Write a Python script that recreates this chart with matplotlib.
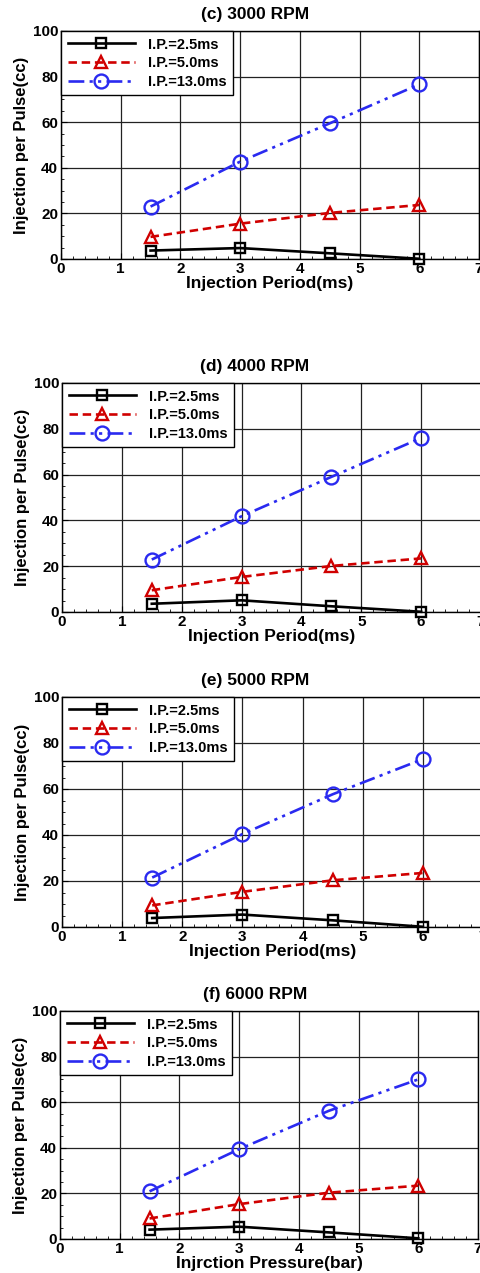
import matplotlib
matplotlib.use('Agg')
import matplotlib.pyplot as plt
from matplotlib.ticker import MultipleLocator
import numpy as np

plt.rcParams['font.family'] = ['Liberation Sans', 'DejaVu Sans']
plt.rcParams['font.weight'] = 'bold'

x_pts = [1.5, 3.0, 4.5, 6.0]
titles = ['(c) 3000 RPM', '(d) 4000 RPM', '(e) 5000 RPM', '(f) 6000 RPM']
xlabels = ['Injection Period(ms)', 'Injection Period(ms)',
           'Injection Period(ms)', 'Injrction Pressure(bar)']
series_names = ['I.P.=2.5ms', 'I.P.=5.0ms', 'I.P.=13.0ms']

ip25 = [[3.7, 4.8, 2.5, 0.1],
        [3.6, 5.1, 2.5, 0.1],
        [3.9, 5.4, 2.9, 0.1],
        [4.1, 5.4, 2.9, 0.3]]
ip50 = [[9.7, 15.5, 20.2, 23.7],
        [9.5, 15.3, 20.1, 23.4],
        [9.4, 15.3, 20.3, 23.5],
        [9.0, 15.3, 20.3, 23.4]]
ip130 = [[23.0, 42.7, 59.5, 76.6],
         [22.9, 41.8, 59.0, 76.0],
         [21.5, 40.4, 57.7, 73.0],
         [20.9, 39.4, 56.2, 70.0]]

# axes boxes in pixels (left, top, right, bottom) for a 480x1273 canvas
W, H = 480, 1273
boxes = [(61, 31, 479, 259),
         (62, 383, 481, 612),
         (62, 697, 483, 927),
         (60, 1011, 478, 1239)]

fig = plt.figure(figsize=(W / 100, H / 100), dpi=100)

styles = [dict(color='black', ls='-', marker='s', ms=7),
          dict(color='#d00000', ls=(0, (3.2, 1.8)), marker='^', ms=8.5),
          dict(color='#2a2af0', ls=(0, (6, 2, 1.2, 2, 1.2, 2)), marker='o', ms=10)]

for i in range(4):
    l, t, r, b = boxes[i]
    ax = fig.add_axes([l / W, 1 - b / H, (r - l) / W, (b - t) / H])
    for vals, name, st in zip([ip25[i], ip50[i], ip130[i]], series_names, styles):
        ax.plot(x_pts, vals, color=st['color'], ls=st['ls'], lw=1.9,
                marker=st['marker'], ms=st['ms'], mfc='none', mec=st['color'],
                mew=1.7, label=name, clip_on=False, zorder=3)
    ax.set_xlim(0, 7)
    ax.set_ylim(0, 100)
    ax.xaxis.set_major_locator(MultipleLocator(1))
    ax.xaxis.set_minor_locator(MultipleLocator(0.2))
    ax.yaxis.set_major_locator(MultipleLocator(20))
    ax.yaxis.set_minor_locator(MultipleLocator(5))
    ax.tick_params(which='both', direction='in', labelsize=11, pad=2)
    ax.tick_params(which='major', length=4)
    ax.tick_params(which='minor', length=2.5)
    ax.grid(True, which='major', color='#222222', lw=0.9)
    for s in ax.spines.values():
        s.set_linewidth(1.0)
    ax.set_xlabel(xlabels[i], fontsize=12.5, fontweight='bold', labelpad=0.5)
    ax.set_ylabel('Injection per Pulse(cc)', fontsize=12, fontweight='bold', labelpad=3)
    leg = ax.legend(loc='upper left', fontsize=10.5, frameon=True, fancybox=False,
                    framealpha=1, edgecolor='black', borderaxespad=0,
                    handlelength=4.6, handletextpad=0.9, labelspacing=0.32,
                    borderpad=0.45)
    leg.get_frame().set_linewidth(1.0)
    for txt in leg.get_texts():
        txt.set_fontweight('bold')
    fig.text(255 / W, 1 - (t - 16) / H, titles[i], ha='center', va='center',
             fontsize=12.5, fontweight='bold')

fig.savefig('out.png', dpi=100)
